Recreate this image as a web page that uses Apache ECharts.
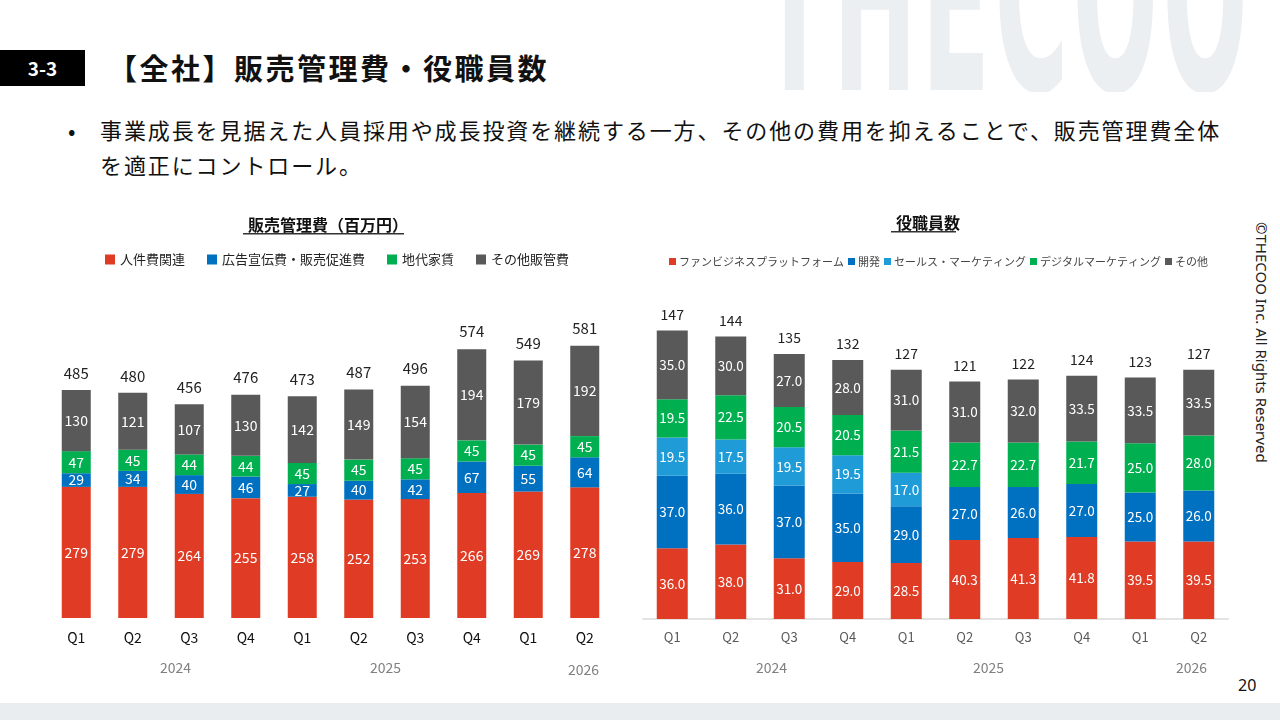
<!DOCTYPE html>
<html>
<head>
<meta charset="utf-8">
<script src="https://cdn.jsdelivr.net/npm/echarts@6/dist/echarts.min.js"></script>
<style>
  html, body { margin: 0; padding: 0; width: 1280px; height: 720px; overflow: hidden; background: #fff; }
  body { position: relative; font-family: "Noto Sans CJK JP", "Noto Sans", sans-serif; }
  .wm { position: absolute; left: 760px; top: 0; width: 520px; height: 92px; overflow: hidden; }
  .wm span { position: absolute; left: 0; bottom: -38px; font-family: "DejaVu Sans Condensed", "DejaVu Sans"; font-weight: bold;
             font-size: 260px; line-height: 1; color: #ebeff2; letter-spacing: 10px; transform-origin: left bottom; transform: scaleX(0.43); white-space: nowrap; }
  .num { position: absolute; left: 0; top: 50px; width: 85px; height: 36px; background: #000; color: #fff;
         font-weight: bold; font-size: 19px; line-height: 36px; text-align: center; }
  .ttl { position: absolute; left: 108px; top: 46px; font-size: 29px; font-weight: bold; color: #111; line-height: 42px; letter-spacing: 2.5px; }
  .bul { position: absolute; left: 68px; top: 112px; width: 1190px; font-size: 22px; letter-spacing: 1.9px; line-height: 35px; color: #111; padding-left: 32px; }
  .bul b { position: absolute; left: 0; top: 0; font-weight: normal; }
  .copy { position: absolute; left: 1262px; top: 222px; transform-origin: left top; transform: rotate(90deg) translateY(-50%);
          font-family: "Noto Sans", sans-serif; font-size: 15px; color: #222; white-space: nowrap; }
  .page { position: absolute; left: 1238px; top: 674px; font-size: 16px; color: #111; font-family: "Noto Sans", sans-serif; }
  .foot { position: absolute; left: 0; top: 703px; width: 1280px; height: 17px; background: #e9edf0; }
  #chart { position: absolute; left: 0; top: 0; width: 1280px; height: 720px; }
</style>
</head>
<body>
<div class="wm"><span>THECOO</span></div>
<div class="num">3-3</div>
<div class="ttl">【全社】販売管理費・役職員数</div>
<div class="bul"><b>•</b>事業成長を見据えた人員採用や成長投資を継続する一方、その他の費用を抑えることで、販売管理費全体<br>を適正にコントロール。</div>
<div class="copy">©THECOO Inc. All Rights Reserved</div>
<div class="page">20</div>
<div class="foot"></div>
<div id="chart"></div>
<script>
// ===== データ =====
const quarters = ['Q1', 'Q2', 'Q3', 'Q4', 'Q1', 'Q2', 'Q3', 'Q4', 'Q1', 'Q2'];

// 販売管理費（百万円）
const sgaNames = ['人件費関連', '広告宣伝費・販売促進費', '地代家賃', 'その他販管費'];
const sgaPersonnel = [279, 279, 264, 255, 258, 252, 253, 266, 269, 278];
const sgaAds       = [29, 34, 40, 46, 27, 40, 42, 67, 55, 64];
const sgaRent      = [47, 45, 44, 44, 45, 45, 45, 45, 45, 45];
const sgaOther     = [130, 121, 107, 130, 142, 149, 154, 194, 179, 192];
const sgaTotal     = [485, 480, 456, 476, 473, 487, 496, 574, 549, 581];

// 役職員数
const hcNames = ['ファンビジネスプラットフォーム', '開発', 'セールス・マーケティング', 'デジタルマーケティング', 'その他'];
const hcFbp     = [36.0, 38.0, 31.0, 29.0, 28.5, 40.3, 41.3, 41.8, 39.5, 39.5];
const hcDev     = [37.0, 36.0, 37.0, 35.0, 29.0, 27.0, 26.0, 27.0, 25.0, 26.0];
const hcSales   = [19.5, 17.5, 19.5, 19.5, 17.0, null, null, null, null, null];
const hcDigital = [19.5, 22.5, 20.5, 20.5, 21.5, 22.7, 22.7, 21.7, 25.0, 28.0];
const hcOther   = [35.0, 30.0, 27.0, 28.0, 31.0, 31.0, 32.0, 33.5, 33.5, 33.5];
const hcTotal   = [147, 144, 135, 132, 127, 121, 122, 124, 123, 127];

const years = ['2024', '2025', '2026'];

const FONT = '"Noto Sans CJK JP", "Noto Sans", sans-serif';
const RED = '#e03c25', BLUE = '#0070c0', LBLUE = '#1f9bd7', GREEN = '#00b050', GRAY = '#595959';

function seg(name, data, color, idx, fs, fmt) {
  return {
    name, type: 'bar', stack: 's' + idx, data,
    xAxisIndex: idx, yAxisIndex: idx,
    barWidth: idx === 0 ? 29 : 31,
    itemStyle: { color },
    label: { show: true, position: 'inside', color: '#fff', fontSize: fs, fontFamily: FONT,
             formatter: p => (p.value == null ? '' : fmt(p.value)) },
  };
}
function total(data, idx, fs) {
  return {
    name: 'total' + idx, type: 'bar', data, xAxisIndex: idx, yAxisIndex: idx,
    barWidth: idx === 0 ? 29 : 31, barGap: '-100%', silent: true, z: 1,
    itemStyle: { color: 'rgba(0,0,0,0)' },
    label: { show: true, position: 'top', distance: 9, color: '#222', fontSize: fs, fontFamily: FONT },
  };
}
const int = v => String(v);
const one = v => v.toFixed(1);

const chart = echarts.init(document.getElementById('chart'));
chart.setOption({
  animation: false,
  textStyle: { fontFamily: FONT },
  title: [
    { text: '販売管理費（百万円）', left: 323, top: 212, textAlign: 'center',
      textStyle: { fontSize: 16, fontWeight: 'bold', color: '#111', fontFamily: FONT } },
    { text: '役職員数', left: 923, top: 210, textAlign: 'center',
      textStyle: { fontSize: 16, fontWeight: 'bold', color: '#111', fontFamily: FONT } },
  ],
  legend: [
    { data: sgaNames, left: 100, top: 248, itemWidth: 10, itemHeight: 10, itemGap: 22, icon: 'rect',
      textStyle: { fontSize: 13, color: '#222', fontFamily: FONT } },
    { data: hcNames, left: 664, top: 251, itemWidth: 7, itemHeight: 7, itemGap: 4, icon: 'rect',
      textStyle: { fontSize: 11, color: '#444', fontFamily: FONT, padding: [0, 0, 0, -2] } },
  ],
  grid: [
    { left: 48, width: 565, top: 289, bottom: 102 },
    { left: 643, width: 585, top: 305, bottom: 101 },
  ],
  xAxis: [
    { type: 'category', gridIndex: 0, data: quarters,
      axisLine: { show: false }, axisTick: { show: false },
      axisLabel: { color: '#111', fontSize: 14, margin: 13, fontFamily: FONT } },
    { type: 'category', gridIndex: 1, data: quarters,
      axisLine: { show: true, lineStyle: { color: '#e3e3e3', width: 2 } }, axisTick: { show: false },
      axisLabel: { color: '#595959', fontSize: 13, margin: 12, fontFamily: FONT } },
  ],
  yAxis: [
    { type: 'value', gridIndex: 0, min: 0, max: 700, show: false },
    { type: 'value', gridIndex: 1, min: 0, max: 160, show: false },
  ],
  graphic: [
    // 見出しの下線
    { type: 'rect', shape: { x: 243, y: 233, width: 161, height: 1.5 }, style: { fill: '#333' } },
    { type: 'rect', shape: { x: 891, y: 231, width: 65, height: 1.5 }, style: { fill: '#333' } },
    { type: 'text', left: 160, top: 661, style: { text: years[0], fontSize: 14, fill: '#808080', fontFamily: FONT } },
    { type: 'text', left: 370, top: 661, style: { text: years[1], fontSize: 14, fill: '#808080', fontFamily: FONT } },
    { type: 'text', left: 568, top: 663, style: { text: years[2], fontSize: 14, fill: '#808080', fontFamily: FONT } },
    { type: 'text', left: 756, top: 661, style: { text: years[0], fontSize: 14, fill: '#808080', fontFamily: FONT } },
    { type: 'text', left: 973, top: 661, style: { text: years[1], fontSize: 14, fill: '#808080', fontFamily: FONT } },
    { type: 'text', left: 1176, top: 661, style: { text: years[2], fontSize: 14, fill: '#808080', fontFamily: FONT } },
  ],
  series: [
    seg(sgaNames[0], sgaPersonnel, RED, 0, 14, int),
    seg(sgaNames[1], sgaAds, BLUE, 0, 14, int),
    seg(sgaNames[2], sgaRent, GREEN, 0, 14, int),
    seg(sgaNames[3], sgaOther, GRAY, 0, 14, int),
    total(sgaTotal, 0, 15),
    seg(hcNames[0], hcFbp, RED, 1, 13.5, one),
    seg(hcNames[1], hcDev, BLUE, 1, 13.5, one),
    seg(hcNames[2], hcSales, LBLUE, 1, 13.5, one),
    seg(hcNames[3], hcDigital, GREEN, 1, 13.5, one),
    seg(hcNames[4], hcOther, GRAY, 1, 13.5, one),
    total(hcTotal, 1, 14),
  ],
});
</script>
</body>
</html>
